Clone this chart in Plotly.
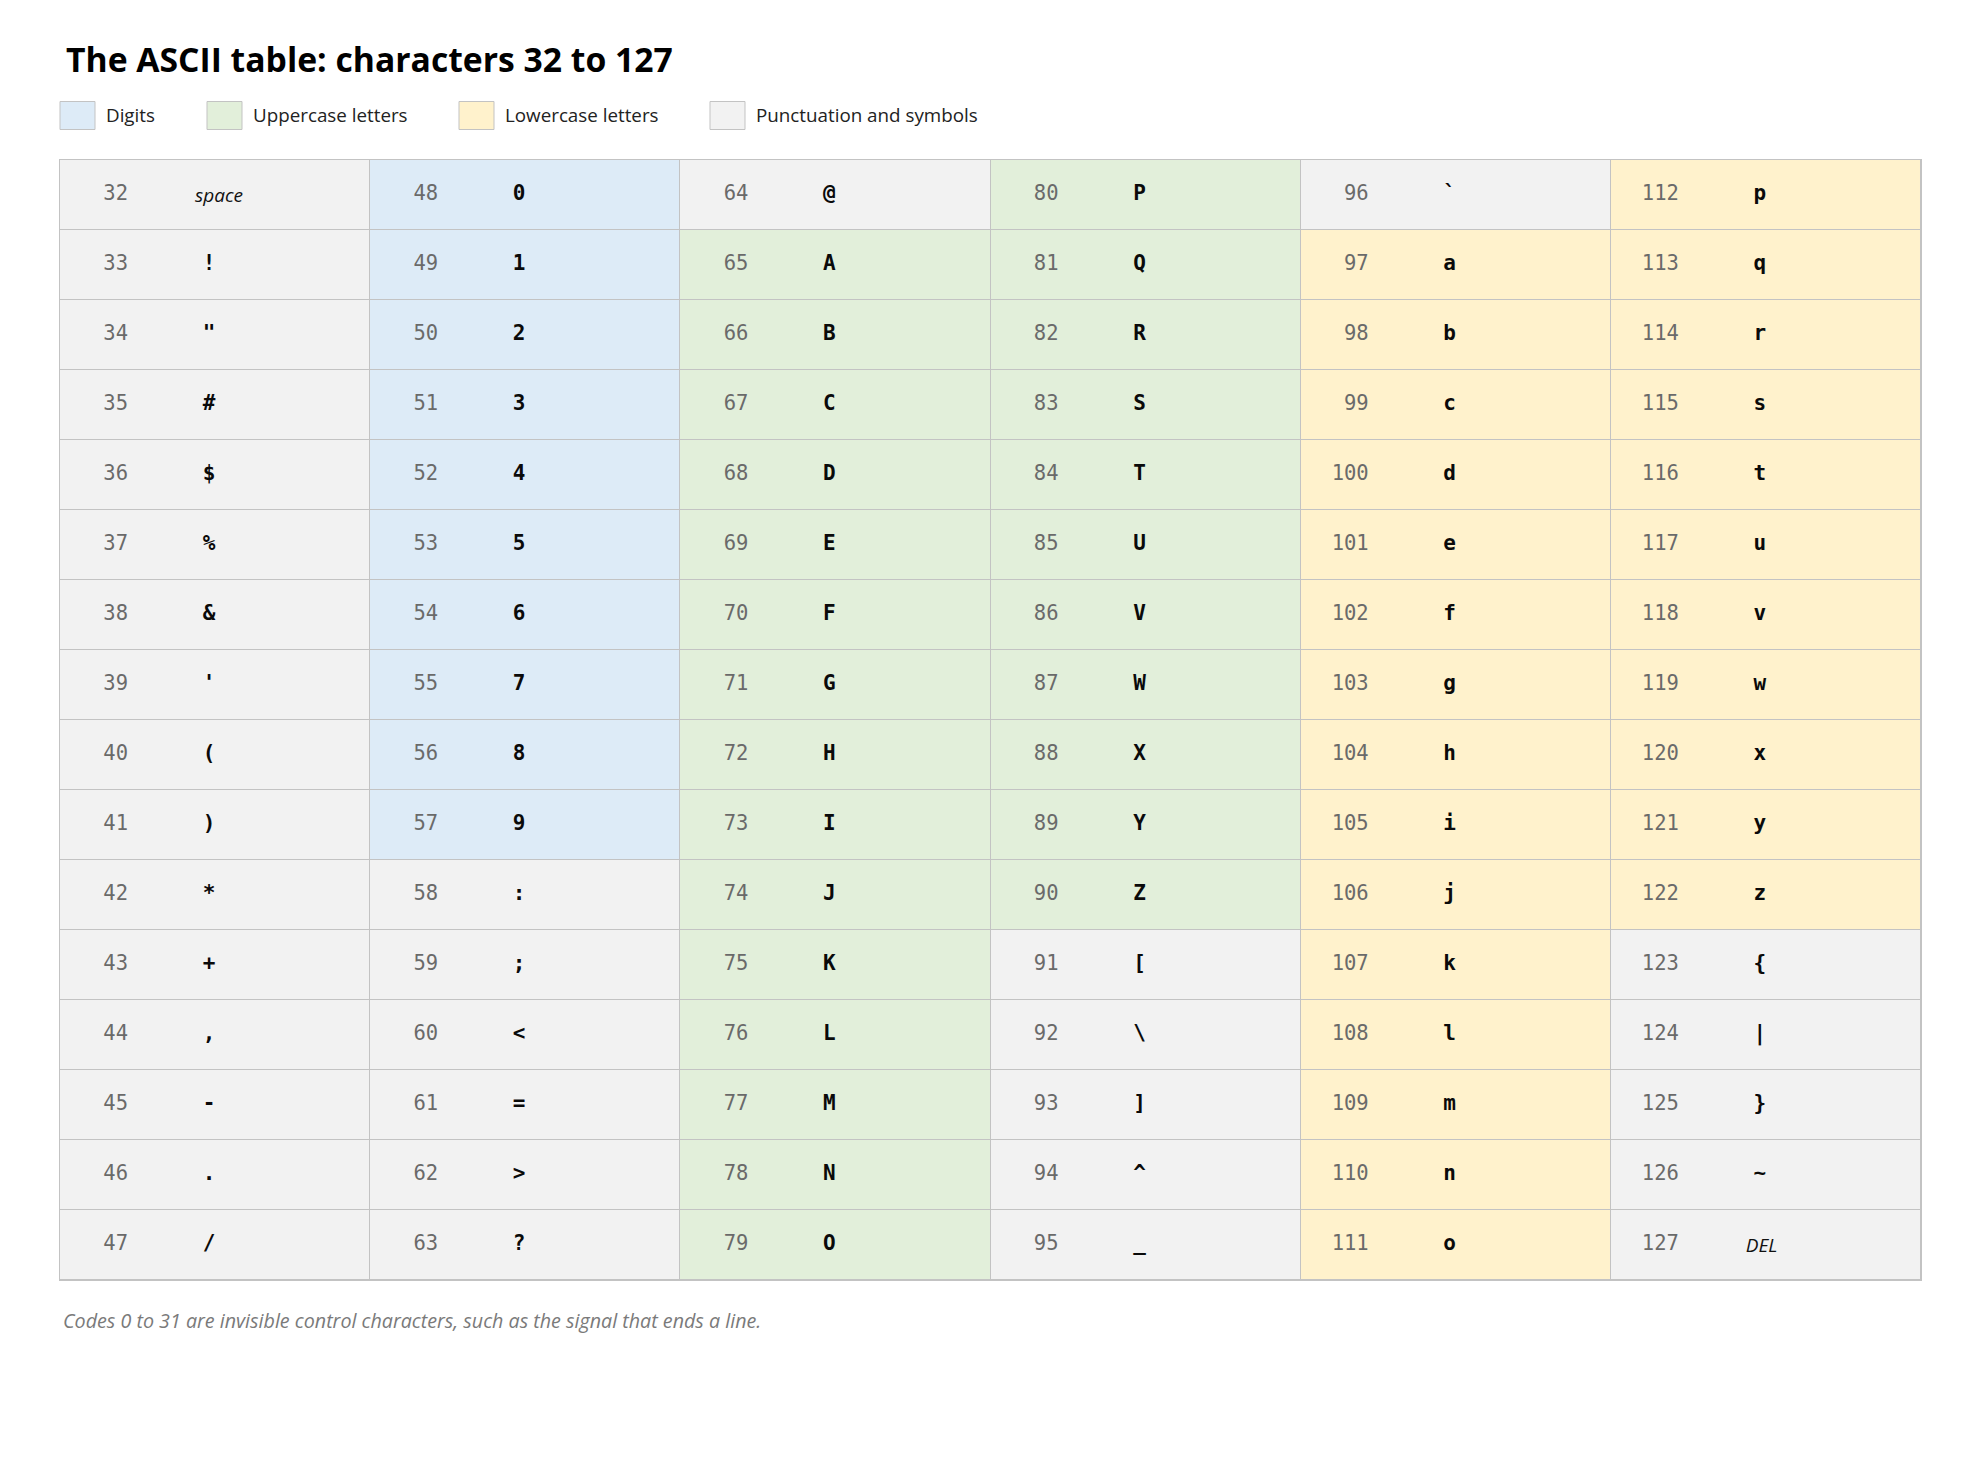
import plotly.graph_objects as go

# ---------------- data ----------------
codes = [32, 33, 34, 35, 36, 37, 38, 39, 40, 41, 42, 43, 44, 45, 46, 47,
         48, 49, 50, 51, 52, 53, 54, 55, 56, 57, 58, 59, 60, 61, 62, 63,
         64, 65, 66, 67, 68, 69, 70, 71, 72, 73, 74, 75, 76, 77, 78, 79,
         80, 81, 82, 83, 84, 85, 86, 87, 88, 89, 90, 91, 92, 93, 94, 95,
         96, 97, 98, 99, 100, 101, 102, 103, 104, 105, 106, 107, 108, 109, 110, 111,
         112, 113, 114, 115, 116, 117, 118, 119, 120, 121, 122, 123, 124, 125, 126, 127]
chars = ["space", "!", "\"", "#", "$", "%", "&", "'", "(", ")", "*", "+", ",", "-", ".", "/",
         "0", "1", "2", "3", "4", "5", "6", "7", "8", "9", ":", ";", "<", "=", ">", "?",
         "@", "A", "B", "C", "D", "E", "F", "G", "H", "I", "J", "K", "L", "M", "N", "O",
         "P", "Q", "R", "S", "T", "U", "V", "W", "X", "Y", "Z", "[", "\\", "]", "^", "_",
         "`", "a", "b", "c", "d", "e", "f", "g", "h", "i", "j", "k", "l", "m", "n", "o",
         "p", "q", "r", "s", "t", "u", "v", "w", "x", "y", "z", "{", "|", "}", "~", "DEL"]
named_chars = ["space", "DEL"]
category_names = ["Digits", "Uppercase letters", "Lowercase letters", "Punctuation and symbols"]
category_colors = ["#ddebf7", "#e2efda", "#fff2cc", "#f2f2f2"]

TITLE = "The ASCII table: characters 32 to 127"
NOTE = "Codes 0 to 31 are invisible control characters, such as the signal that ends a line."

# ---------------- layout constants ----------------
PAGE_OFF = 8                      # default body margin of the html page
W, H = 1980 - 2 * PAGE_OFF, 1470 - 2 * PAGE_OFF
TABLE_X0, TABLE_Y0 = 60, 160      # table corner in page pixels
NCOLS, NROWS = 6, 16
PW, PH = 1861, 1120
L, T = TABLE_X0 - PAGE_OFF, TABLE_Y0 - PAGE_OFF
R, B = W - L - PW, H - T - PH
COLW = PW / NCOLS
BORDER = "#c3c3c3"
CODE_RIGHT = 68 / COLW      # right edge of code number within a column
CHAR_CENTER = 149 / COLW    # centre of glyph within a column
NAME_LEFT = 135 / COLW      # left edge of italic names


def px2x(px):
    return (px - TABLE_X0) / PW


def px2y(py):
    return 1 - (py - TABLE_Y0) / PH


def category(ch):
    if len(ch) == 1 and ch.isdigit():
        return 0
    if len(ch) == 1 and ch.isupper():
        return 1
    if len(ch) == 1 and ch.islower():
        return 2
    return 3


cols = [(c - codes[0]) // NROWS for c in codes]
rows = [(c - codes[0]) % NROWS for c in codes]

z = [[None] * NCOLS for _ in range(NROWS)]
for c, r, ch in zip(cols, rows, chars):
    z[r][c] = category(ch)

fig = go.Figure()

n = len(category_colors) - 1
fig.add_trace(go.Heatmap(
    z=z,
    x=[i + 0.5 for i in range(NCOLS)],
    y=[j + 0.5 for j in range(NROWS)],
    zmin=0, zmax=n,
    colorscale=[[i / n, col] for i, col in enumerate(category_colors)],
    showscale=False, xgap=1, ygap=1, hoverinfo="skip",
))

# code numbers
fig.add_trace(go.Scatter(
    x=[c + CODE_RIGHT for c in cols],
    y=[r + 0.5 for r in rows],
    mode="text",
    text=[str(c) for c in codes],
    textposition="middle left",
    textfont=dict(family="DejaVu Sans Mono", size=20.5, color="#6a6a6a"),
    hoverinfo="skip", showlegend=False,
))

# single glyphs
glyph_idx = [i for i, ch in enumerate(chars) if ch not in named_chars]
fig.add_trace(go.Scatter(
    x=[cols[i] + CHAR_CENTER for i in glyph_idx],
    y=[rows[i] + 0.5 for i in glyph_idx],
    mode="text",
    text=[chars[i] for i in glyph_idx],
    textposition="middle center",
    textfont=dict(family="DejaVu Sans Mono", size=21, color="#0a0a0a", weight="bold"),
    hoverinfo="skip", showlegend=False,
))

# named (invisible) characters
name_idx = [i for i, ch in enumerate(chars) if ch in named_chars]
fig.add_trace(go.Scatter(
    x=[cols[i] + NAME_LEFT for i in name_idx],
    y=[rows[i] + 0.53 for i in name_idx],
    mode="text",
    text=[chars[i] for i in name_idx],
    textposition="middle right",
    textfont=dict(family="Open Sans", size=19, color="#111111", style="italic"),
    hoverinfo="skip", showlegend=False,
))

shapes = []
annotations = []

# title
annotations.append(dict(
    text=f"<b>{TITLE}</b>", xref="paper", yref="paper",
    x=px2x(64), y=px2y(59), xanchor="left", yanchor="middle",
    showarrow=False, font=dict(family="Open Sans", size=33.7, color="#000000"),
))

# legend
legend_sq_x = [60, 207, 459, 710]
SQ_W, SQ_H = 35, 28
LEG_CY = 115.5
for name, col, x0 in zip(category_names, category_colors, legend_sq_x):
    shapes.append(dict(
        type="rect", xref="paper", yref="paper",
        x0=px2x(x0), x1=px2x(x0 + SQ_W),
        y0=px2y(LEG_CY - SQ_H / 2), y1=px2y(LEG_CY + SQ_H / 2),
        fillcolor=col, line=dict(color=BORDER, width=1),
    ))
    annotations.append(dict(
        text=name, xref="paper", yref="paper",
        x=px2x(x0 + SQ_W + 9), y=px2y(LEG_CY), xanchor="left", yanchor="middle",
        showarrow=False, font=dict(family="Open Sans", size=18.8, color="#222222"),
    ))

# footnote
annotations.append(dict(
    text=NOTE, xref="paper", yref="paper",
    x=px2x(61), y=px2y(1320), xanchor="left", yanchor="middle",
    showarrow=False, font=dict(family="Open Sans", size=19.7, color="#7a7a7a", style="italic"),
))

fig.update_layout(
    width=W, height=H, autosize=False,
    margin=dict(l=L, r=R, t=T, b=B, pad=0),
    paper_bgcolor="#ffffff", plot_bgcolor=BORDER,
    showlegend=False,
    shapes=shapes, annotations=annotations,
    xaxis=dict(range=[0, NCOLS], showgrid=False, zeroline=False, showticklabels=False,
               ticks="", showline=True, mirror=True, linecolor=BORDER, linewidth=1,
               fixedrange=True),
    yaxis=dict(range=[NROWS, 0], showgrid=False, zeroline=False, showticklabels=False,
               ticks="", showline=True, mirror=True, linecolor=BORDER, linewidth=1,
               fixedrange=True),
)

fig.write_html("out.html", config={"displayModeBar": False})
